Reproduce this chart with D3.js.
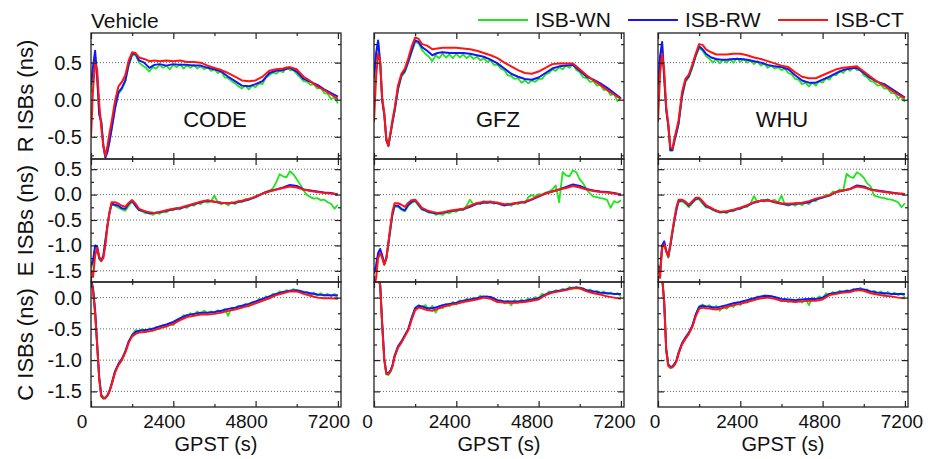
<!DOCTYPE html>
<html>
<head>
<meta charset="utf-8">
<script src="https://cdn.jsdelivr.net/npm/d3@7"></script>
<style>
  body { margin: 0; background: #fff; }
  svg { font-family: Arial, "Liberation Sans", sans-serif; }
</style>
</head>
<body>
<div id="container"></div>
<script>

// GPST epochs (s) for ISB-RW / ISB-CT
var T = [0,60,120,180,240,300,360,420,480,540,600,700,800,900,1000,1100,1200,1300,1400,
  1550,1700,1850,2000,2200,2400,2600,2800,3000,3200,3400,3600,3800,4000,4200,4400,4600,
  4800,5000,5200,5400,5600,5800,6000,6200,6400,6600,6800,7000,7200];

// GPST epochs (s) for ISB-WN (noisier, denser)
var TW = [0,60,120,180,240,300,360,420,480,540,600,700,800,900,1000,1100,1200,1300,1400,
  1500,1600,1700,1800,1900,2000,2100,2200,2300,2400,2500,2600,2700,2800,2900,3000,3100,
  3200,3300,3400,3500,3600,3700,3800,3900,4000,4100,4200,4300,4400,4500,4600,4700,4800,
  4900,5000,5100,5200,5300,5400,5500,5600,5700,5800,5900,6000,6100,6200,6300,6400,6500,
  6600,6700,6800,6900,7000,7100,7200];

var centers = ["CODE", "GFZ", "WHU"];
var rowNames = ["R", "E", "C"];
var seriesNames = ["ISB-WN", "ISB-RW", "ISB-CT"];
var seriesColors = ["#1ee61e", "#1414ff", "#ff1414"];

var xTicks = [0, 2400, 4800, 7200];
var xMinor = [1200, 3600, 6000];
var yMajor = [[-0.5, 0, 0.5], [-1.5, -1, -0.5, 0, 0.5], [-1.5, -1, -0.5, 0]];
var yMinor = [[-0.75, -0.25, 0.25, 0.75], [-1.25, -0.75, -0.25, 0.25], [-1.25, -0.75, -0.25]];

// ---- R ISBs ----
var rCodeWN = [0.10,0.40,0.62,0.30,-0.18,-0.30,-0.62,-0.78,-0.70,-0.56,-0.40,-0.12,0.08,0.14,0.24,0.46,0.60,0.60,0.50,
  0.46,0.43,0.38,0.44,0.42,0.47,0.43,0.46,0.41,0.47,
  0.44,0.48,0.42,0.46,0.43,0.47,0.42,0.45,0.41,0.44,
  0.39,0.41,0.36,0.38,0.30,0.29,0.25,0.22,0.18,0.15,
  0.19,0.14,0.19,0.17,0.22,0.21,0.30,0.33,0.37,0.35,
  0.39,0.37,0.44,0.40,0.40,0.35,0.30,0.25,0.24,0.20,
  0.21,0.15,0.16,0.09,0.08,0.01,0.03,-0.05];
var rCodeRW = [0.20,0.45,0.66,0.30,-0.20,-0.30,-0.62,-0.78,-0.70,-0.56,-0.40,-0.12,0.10,0.16,0.26,0.48,0.62,0.62,0.53,
  0.50,0.43,0.47,
  0.48,0.46,0.48,0.47,0.47,0.46,0.46,0.43,0.41,0.38,0.31,0.25,0.19,0.18,0.21,0.25,0.36,0.39,0.40,0.43,0.38,0.28,0.24,0.20,0.14,0.09,0.04];
var rCodeCT = [-0.50,0.15,0.50,0.40,-0.05,-0.38,-0.62,-0.76,-0.62,-0.45,-0.30,-0.02,0.18,0.24,0.33,0.53,0.64,0.63,0.57,
  0.55,0.52,0.53,
  0.52,0.53,0.52,0.53,0.51,0.51,0.50,0.46,0.43,0.40,0.36,0.31,0.26,0.25,0.26,0.31,0.39,0.41,0.42,0.44,0.41,0.31,0.25,0.18,0.13,0.07,0.01];

var rGfzWN = [0.25,0.58,0.78,0.50,-0.02,-0.20,-0.55,-0.63,-0.47,-0.31,-0.16,0.13,0.31,0.37,0.50,0.64,0.78,0.76,0.67,
  0.62,0.58,0.52,0.60,0.56,0.62,0.57,0.61,0.56,0.62,
  0.57,0.61,0.56,0.60,0.55,0.58,0.53,0.56,0.51,0.53,
  0.47,0.47,0.42,0.40,0.33,0.32,0.28,0.29,0.23,0.26,
  0.22,0.26,0.24,0.28,0.28,0.34,0.36,0.41,0.39,0.44,
  0.41,0.46,0.43,0.48,0.40,0.37,0.30,0.29,0.24,0.25,
  0.19,0.20,0.13,0.14,0.06,0.08,-0.02,0.02];
var rGfzRW = [0.30,0.62,0.80,0.50,-0.02,-0.20,-0.55,-0.62,-0.46,-0.30,-0.15,0.15,0.33,0.39,0.52,0.66,0.80,0.78,0.71,
  0.66,0.60,0.63,
  0.64,0.63,0.63,0.63,0.62,0.60,0.58,0.54,0.49,0.42,0.35,0.31,0.28,0.27,0.30,0.36,0.42,0.45,0.46,0.47,0.39,0.31,0.27,0.22,0.16,0.09,0.02];
var rGfzCT = [-0.30,0.30,0.62,0.52,0.02,-0.18,-0.52,-0.62,-0.44,-0.27,-0.12,0.19,0.35,0.42,0.56,0.72,0.84,0.82,0.75,
  0.73,0.68,0.69,
  0.70,0.70,0.70,0.69,0.68,0.66,0.63,0.60,0.56,0.50,0.45,0.40,0.36,0.35,0.38,0.43,0.48,0.49,0.49,0.49,0.41,0.33,0.26,0.20,0.13,0.07,0.01];

var rWhuWN = [0.15,0.55,0.76,0.30,-0.14,-0.35,-0.69,-0.69,-0.56,-0.45,-0.33,0.03,0.24,0.30,0.43,0.58,0.70,0.66,0.59,
  0.55,0.50,0.55,0.49,0.54,0.50,0.55,0.50,0.56,0.51,
  0.55,0.50,0.53,0.48,0.52,0.46,0.49,0.43,0.46,0.42,
  0.44,0.40,0.42,0.36,0.34,0.28,0.27,0.21,0.23,0.18,
  0.23,0.19,0.25,0.23,0.29,0.27,0.34,0.33,0.39,0.36,
  0.42,0.39,0.44,0.40,0.41,0.33,0.30,0.25,0.24,0.19,
  0.20,0.15,0.15,0.09,0.09,0.02,0.04,-0.03];
var rWhuRW = [0.20,0.58,0.78,0.30,-0.14,-0.35,-0.68,-0.68,-0.55,-0.44,-0.32,0.05,0.26,0.32,0.45,0.60,0.72,0.68,0.62,
  0.57,0.55,0.54,
  0.54,0.55,0.55,0.54,0.52,0.50,0.47,0.45,0.44,0.41,0.33,0.26,0.23,0.23,0.27,0.31,0.36,0.40,0.42,0.43,0.36,0.29,0.24,0.21,0.15,0.09,0.03];
var rWhuCT = [-0.30,0.35,0.62,0.40,-0.10,-0.32,-0.64,-0.66,-0.52,-0.40,-0.28,0.10,0.28,0.34,0.47,0.62,0.75,0.74,0.68,
  0.64,0.61,0.61,
  0.61,0.62,0.62,0.60,0.57,0.55,0.52,0.49,0.46,0.44,0.37,0.31,0.29,0.29,0.33,0.37,0.41,0.43,0.44,0.45,0.38,0.31,0.24,0.19,0.13,0.07,0.02];

// ---- E ISBs ----
var eCodeWN = [-1.45,-1.35,-1.05,-1.05,-1.27,-1.32,-1.22,-0.92,-0.62,-0.37,-0.20,-0.22,-0.26,-0.29,-0.32,-0.22,-0.14,-0.23,-0.31,
  -0.33,-0.37,-0.35,-0.40,-0.36,-0.38,-0.33,-0.35,-0.30,-0.31,
  -0.26,-0.29,-0.24,-0.26,-0.20,-0.22,-0.16,-0.19,-0.12,-0.16,
  -0.13,-0.02,-0.16,-0.19,-0.16,-0.21,-0.15,-0.19,-0.12,-0.15,
  -0.09,-0.08,-0.07,-0.03,0.00,0.01,0.06,0.07,0.12,0.24,
  0.40,0.36,0.34,0.46,0.40,0.30,0.20,0.08,-0.01,-0.05,
  -0.08,-0.07,-0.11,-0.10,-0.15,-0.18,-0.28,-0.20];
var eCodeRW = [-1.40,-1.30,-1.00,-1.02,-1.25,-1.30,-1.20,-0.90,-0.60,-0.35,-0.18,-0.20,-0.22,-0.27,-0.28,-0.18,-0.12,-0.22,-0.30,
  -0.33,-0.37,-0.36,
  -0.35,-0.32,-0.29,-0.27,-0.23,-0.19,-0.15,-0.12,-0.14,-0.16,-0.17,-0.16,-0.13,-0.10,-0.05,0.02,0.07,0.10,0.14,0.19,0.17,0.10,0.08,0.06,0.04,0.03,0.00];
var eCodeCT = [-1.48,-1.62,-1.20,-1.05,-1.22,-1.30,-1.25,-1.00,-0.62,-0.35,-0.15,-0.15,-0.18,-0.22,-0.24,-0.16,-0.11,-0.18,-0.28,
  -0.32,-0.35,-0.36,
  -0.34,-0.31,-0.28,-0.26,-0.22,-0.18,-0.14,-0.11,-0.14,-0.16,-0.17,-0.15,-0.12,-0.09,-0.04,0.02,0.06,0.10,0.13,0.16,0.14,0.10,0.07,0.05,0.03,0.02,0.00];

var eGfzWN = [-1.50,-1.42,-1.18,-1.10,-1.22,-1.38,-1.27,-0.97,-0.68,-0.40,-0.24,-0.24,-0.30,-0.33,-0.22,-0.16,-0.13,-0.22,-0.30,
  -0.31,-0.36,-0.34,-0.40,-0.37,-0.40,-0.35,-0.37,-0.32,-0.34,
  -0.29,-0.31,-0.22,-0.10,-0.20,-0.16,-0.19,-0.13,-0.17,-0.13,
  -0.18,-0.15,-0.20,-0.22,-0.19,-0.22,-0.17,-0.19,-0.14,-0.17,
  -0.05,-0.01,-0.04,0.01,0.00,0.04,0.06,0.10,0.18,-0.15,
  0.44,0.38,0.36,0.48,0.44,0.30,0.22,0.10,0.02,-0.04,
  -0.05,-0.07,-0.08,-0.11,-0.26,-0.13,-0.16,-0.11];
var eGfzRW = [-1.55,-1.40,-1.15,-1.07,-1.20,-1.36,-1.25,-0.96,-0.66,-0.38,-0.22,-0.22,-0.28,-0.31,-0.20,-0.14,-0.11,-0.20,-0.28,
  -0.33,-0.36,-0.37,
  -0.36,-0.33,-0.31,-0.29,-0.24,-0.18,-0.16,-0.15,-0.17,-0.21,-0.19,-0.16,-0.15,-0.10,-0.04,0.02,0.06,0.10,0.15,0.20,0.17,0.11,0.08,0.06,0.05,0.03,0.00];
var eGfzCT = [-1.80,-1.65,-1.25,-1.15,-1.25,-1.38,-1.25,-0.94,-0.62,-0.33,-0.17,-0.17,-0.20,-0.24,-0.16,-0.11,-0.10,-0.18,-0.26,
  -0.31,-0.34,-0.36,
  -0.35,-0.32,-0.30,-0.28,-0.22,-0.17,-0.14,-0.14,-0.16,-0.19,-0.18,-0.16,-0.14,-0.09,-0.03,0.02,0.06,0.10,0.13,0.17,0.14,0.10,0.07,0.05,0.04,0.02,0.00];

var eWhuWN = [-1.38,-1.52,-1.02,-0.95,-1.12,-1.24,-1.02,-0.76,-0.52,-0.30,-0.15,-0.13,-0.18,-0.25,-0.17,-0.10,-0.09,-0.18,-0.25,
  -0.26,-0.31,-0.30,-0.36,-0.33,-0.37,-0.31,-0.33,-0.27,-0.29,
  -0.24,-0.24,-0.17,-0.03,-0.15,-0.11,-0.14,-0.09,-0.13,-0.10,
  -0.16,-0.02,-0.20,-0.22,-0.18,-0.22,-0.17,-0.21,-0.15,-0.19,
  -0.11,-0.13,-0.06,-0.06,0.00,-0.01,0.06,0.05,0.10,0.08,
  0.41,0.35,0.33,0.44,0.40,0.33,0.22,0.16,-0.02,-0.04,
  -0.06,-0.07,-0.09,-0.10,-0.12,-0.15,-0.25,-0.17];
var eWhuRW = [-1.40,-1.55,-1.00,-0.92,-1.10,-1.22,-1.00,-0.74,-0.50,-0.28,-0.13,-0.11,-0.15,-0.22,-0.15,-0.08,-0.07,-0.15,-0.23,
  -0.27,-0.33,-0.35,
  -0.34,-0.31,-0.27,-0.22,-0.16,-0.12,-0.11,-0.15,-0.18,-0.20,-0.18,-0.17,-0.15,-0.10,-0.06,-0.02,0.05,0.08,0.11,0.18,0.16,0.10,0.08,0.06,0.04,0.02,0.01];
var eWhuCT = [-1.42,-1.64,-1.05,-0.98,-1.12,-1.22,-0.98,-0.72,-0.46,-0.24,-0.10,-0.10,-0.14,-0.20,-0.13,-0.06,-0.06,-0.13,-0.21,
  -0.26,-0.32,-0.34,
  -0.33,-0.30,-0.26,-0.21,-0.15,-0.12,-0.11,-0.14,-0.17,-0.18,-0.17,-0.16,-0.13,-0.08,-0.05,-0.01,0.05,0.08,0.11,0.16,0.14,0.10,0.07,0.05,0.03,0.02,0.01];

// ---- C ISBs ----
var cCodeWN = [0.28,0.12,-0.22,-0.78,-1.30,-1.58,-1.62,-1.62,-1.57,-1.50,-1.39,-1.19,-1.07,-0.99,-0.87,-0.71,-0.59,-0.52,-0.54,
  -0.50,-0.55,-0.49,-0.53,-0.47,-0.50,-0.44,-0.47,-0.41,-0.44,
  -0.36,-0.35,-0.28,-0.30,-0.25,-0.28,-0.22,-0.26,-0.21,-0.25,
  -0.22,-0.25,-0.20,-0.24,-0.18,-0.29,-0.16,-0.18,-0.13,-0.16,
  -0.10,-0.14,-0.07,-0.09,-0.02,-0.05,0.02,-0.01,0.06,0.05,
  0.10,0.07,0.12,0.10,0.14,0.10,0.11,0.07,0.09,0.05,
  0.08,0.03,0.07,0.03,0.06,0.02,0.06,-0.02];
var cCodeRW = [0.30,0.15,-0.20,-0.75,-1.28,-1.56,-1.60,-1.60,-1.56,-1.49,-1.38,-1.18,-1.06,-0.98,-0.86,-0.70,-0.60,-0.55,-0.53,
  -0.52,-0.51,-0.49,
  -0.46,-0.43,-0.39,-0.33,-0.28,-0.26,-0.24,-0.24,-0.23,-0.21,-0.18,-0.16,-0.13,-0.10,-0.06,-0.02,0.02,0.06,0.09,0.11,0.12,0.09,0.07,0.05,0.04,0.04,0.04];
var cCodeCT = [0.30,0.10,-0.26,-0.75,-1.30,-1.58,-1.61,-1.60,-1.57,-1.50,-1.40,-1.20,-1.08,-1.00,-0.88,-0.72,-0.62,-0.58,-0.56,
  -0.55,-0.54,-0.52,
  -0.49,-0.46,-0.42,-0.36,-0.31,-0.29,-0.27,-0.27,-0.26,-0.24,-0.21,-0.19,-0.16,-0.13,-0.09,-0.05,-0.01,0.04,0.07,0.10,0.10,0.06,0.03,0.00,-0.01,-0.01,-0.02];

var cGfzWN = [0.35,0.35,0.32,0.20,-0.44,-1.00,-1.23,-1.24,-1.19,-1.10,-0.94,-0.80,-0.71,-0.61,-0.51,-0.33,-0.16,-0.12,-0.15,
  -0.12,-0.20,-0.13,-0.24,-0.14,-0.17,-0.10,-0.14,-0.07,-0.11,
  -0.04,-0.08,-0.02,-0.04,0.00,-0.02,0.03,0.00,0.02,-0.01,
  -0.03,-0.06,-0.04,-0.09,-0.05,-0.12,-0.04,-0.08,-0.03,-0.07,
  -0.01,-0.05,0.01,-0.01,0.06,0.03,0.10,0.08,0.12,0.10,
  0.14,0.12,0.17,0.14,0.18,0.14,0.15,0.11,0.13,0.09,
  0.11,0.07,0.10,0.06,0.08,0.05,0.07,0.02];
var cGfzRW = [0.35,0.35,0.32,0.20,-0.42,-0.98,-1.20,-1.21,-1.17,-1.08,-0.93,-0.78,-0.70,-0.60,-0.50,-0.32,-0.17,-0.13,-0.14,
  -0.17,-0.17,-0.15,
  -0.12,-0.10,-0.08,-0.05,-0.03,-0.01,0.02,0.01,-0.04,-0.06,-0.06,-0.06,-0.05,-0.03,-0.01,0.05,0.09,0.11,0.13,0.16,0.16,0.12,0.10,0.08,0.07,0.06,0.06];
var cGfzCT = [0.35,0.35,0.32,0.20,-0.45,-1.00,-1.22,-1.22,-1.18,-1.10,-0.95,-0.80,-0.72,-0.62,-0.52,-0.35,-0.20,-0.16,-0.17,
  -0.20,-0.21,-0.18,
  -0.15,-0.12,-0.10,-0.07,-0.05,-0.03,0.00,-0.02,-0.07,-0.08,-0.08,-0.08,-0.07,-0.05,-0.03,0.04,0.08,0.10,0.12,0.15,0.15,0.10,0.07,0.05,0.02,0.00,-0.02];

var cWhuWN = [0.35,0.35,0.33,-0.07,-0.84,-1.09,-1.13,-1.12,-1.08,-1.01,-0.89,-0.74,-0.65,-0.57,-0.46,-0.28,-0.14,-0.11,-0.15,
  -0.12,-0.19,-0.13,-0.21,-0.14,-0.18,-0.11,-0.15,-0.08,-0.12,
  -0.05,-0.08,-0.01,-0.04,0.02,0.00,0.04,0.01,0.03,-0.01,
  -0.03,-0.06,-0.02,-0.07,-0.03,-0.06,-0.02,-0.08,-0.02,-0.12,
  0.00,-0.04,0.02,-0.01,0.07,0.04,0.09,0.06,0.11,0.08,
  0.12,0.10,0.14,0.11,0.16,0.12,0.13,0.09,0.11,0.07,
  0.10,0.05,0.09,0.05,0.08,0.04,0.07,0.01];
var cWhuRW = [0.35,0.35,0.33,-0.06,-0.82,-1.07,-1.11,-1.10,-1.06,-1.00,-0.88,-0.73,-0.64,-0.56,-0.45,-0.27,-0.15,-0.13,-0.14,
  -0.15,-0.16,-0.14,
  -0.12,-0.09,-0.07,-0.04,-0.01,0.02,0.03,0.01,-0.02,-0.03,-0.04,-0.03,-0.02,-0.02,0.00,0.06,0.08,0.10,0.11,0.14,0.13,0.10,0.08,0.07,0.06,0.06,0.06];
var cWhuCT = [0.35,0.35,0.33,-0.08,-0.85,-1.09,-1.12,-1.11,-1.08,-1.02,-0.90,-0.75,-0.66,-0.58,-0.47,-0.30,-0.18,-0.16,-0.17,
  -0.18,-0.19,-0.17,
  -0.15,-0.12,-0.10,-0.07,-0.04,-0.01,0.00,-0.02,-0.05,-0.06,-0.07,-0.06,-0.05,-0.05,-0.03,0.04,0.06,0.08,0.09,0.12,0.11,0.07,0.05,0.03,0.02,0.00,-0.01];

// panels[row][col] = [WN, RW, CT]
var panels = [
  [[rCodeWN, rCodeRW, rCodeCT], [rGfzWN, rGfzRW, rGfzCT], [rWhuWN, rWhuRW, rWhuCT]],
  [[eCodeWN, eCodeRW, eCodeCT], [eGfzWN, eGfzRW, eGfzCT], [eWhuWN, eWhuRW, eWhuCT]],
  [[cCodeWN, cCodeRW, cCodeCT], [cGfzWN, cGfzRW, cGfzCT], [cWhuWN, cWhuRW, cWhuCT]]
];

// layout
var width = 941, height = 459;
var colLeft = [91, 374, 658], colW = 250;
var rowTop = [33, 159, 282], rowBot = [159, 282, 407];
var yDomains = [[-0.8, 0.9], [-1.72, 0.7], [-1.75, 0.25]];
var xLabelShift = [-9.5, -7, -3.5];

var svg = d3.select("div#container")
  .append("svg")
  .attr("width", width)
  .attr("height", height);

function styleText(sel, size) {
  sel.attr("font-family", "Arial, 'Liberation Sans', sans-serif")
     .attr("font-size", size)
     .attr("fill", "#111");
}

for (var r = 0; r < 3; r++) {
  for (var c = 0; c < 3; c++) {
    var L = colLeft[c];
    var x = d3.scaleLinear().domain([0, 7290]).range([L, L + colW]);
    var y = d3.scaleLinear().domain(yDomains[r]).range([rowBot[r], rowTop[r]]);
    var g = svg.append("g");

    var clipId = "clip" + r + c;
    g.append("clipPath").attr("id", clipId)
      .append("rect")
      .attr("x", L).attr("y", rowTop[r])
      .attr("width", colW).attr("height", rowBot[r] - rowTop[r]);

    // dotted grid at major y ticks
    g.selectAll("line.grid").data(yMajor[r]).join("line")
      .attr("class", "grid")
      .attr("x1", L).attr("x2", L + colW)
      .attr("y1", function(d) { return y(d); })
      .attr("y2", function(d) { return y(d); })
      .attr("stroke", "#666").attr("stroke-width", 1)
      .attr("stroke-dasharray", "1,2");

    // series
    var line = d3.line()
      .x(function(d) { return x(d[0]); })
      .y(function(d) { return y(d[1]); });
    var plot = g.append("g").attr("clip-path", "url(#" + clipId + ")");
    panels[r][c].forEach(function(vals, s) {
      var times = s === 0 ? TW : T;
      plot.append("path")
        .datum(d3.zip(times, vals))
        .attr("d", line)
        .attr("fill", "none")
        .attr("stroke", seriesColors[s])
        .attr("stroke-width", s === 0 ? 1.8 : 2)
        .attr("stroke-linejoin", "round");
    });

    // inward ticks on all four sides
    var tickAxes = [
      [d3.axisBottom(x).tickValues(xTicks).tickSize(-6), "translate(0," + rowBot[r] + ")"],
      [d3.axisBottom(x).tickValues(xMinor).tickSize(-3), "translate(0," + rowBot[r] + ")"],
      [d3.axisTop(x).tickValues(xTicks).tickSize(-6), "translate(0," + rowTop[r] + ")"],
      [d3.axisTop(x).tickValues(xMinor).tickSize(-3), "translate(0," + rowTop[r] + ")"],
      [d3.axisLeft(y).tickValues(yMajor[r]).tickSize(-6), "translate(" + L + ",0)"],
      [d3.axisLeft(y).tickValues(yMinor[r]).tickSize(-3), "translate(" + L + ",0)"],
      [d3.axisRight(y).tickValues(yMajor[r]).tickSize(-6), "translate(" + (L + colW) + ",0)"],
      [d3.axisRight(y).tickValues(yMinor[r]).tickSize(-3), "translate(" + (L + colW) + ",0)"]
    ];
    tickAxes.forEach(function(a) {
      var ag = g.append("g").attr("transform", a[1]).call(a[0].tickFormat(""));
      ag.select(".domain").remove();
      ag.selectAll("line").attr("stroke", "#222").attr("stroke-width", 1.2);
    });

    // y tick labels (first column only)
    if (c === 0) {
      var yl = g.append("g").attr("transform", "translate(" + L + ",0)")
        .call(d3.axisLeft(y).tickValues(yMajor[r]).tickSize(0).tickPadding(9)
          .tickFormat(function(d) { return d.toFixed(1); }));
      yl.select(".domain").remove();
      styleText(yl.selectAll("text"), 20);
    }

    // x tick labels (bottom row only)
    if (r === 2) {
      var xl = g.append("g").attr("transform", "translate(0," + rowBot[r] + ")")
        .call(d3.axisBottom(x).tickValues(xTicks).tickSize(0).tickPadding(8)
          .tickFormat(function(d) { return String(d); }));
      xl.select(".domain").remove();
      styleText(xl.selectAll("text"), 19);
      xl.selectAll("text").attr("dx", xLabelShift[c]);

      styleText(g.append("text")
        .attr("x", L + colW / 2).attr("y", 451)
        .attr("text-anchor", "middle")
        .text("GPST (s)"), 20);
    }

    // frame
    g.append("rect")
      .attr("x", L).attr("y", rowTop[r])
      .attr("width", colW).attr("height", rowBot[r] - rowTop[r])
      .attr("fill", "none").attr("stroke", "#222").attr("stroke-width", 1.3);

    // analysis centre name
    if (r === 0) {
      styleText(g.append("text")
        .attr("x", L + colW / 2 - 1).attr("y", 127)
        .attr("text-anchor", "middle")
        .text(centers[c]), 22);
    }
  }

  // y axis title
  var cy = (rowTop[r] + rowBot[r]) / 2;
  styleText(svg.append("text")
    .attr("transform", "translate(33," + cy + ") rotate(-90)")
    .attr("text-anchor", "middle")
    .text(rowNames[r] + " ISBs (ns)"), 22);
}

// title
styleText(svg.append("text").attr("x", 91).attr("y", 28).text("Vehicle"), 21);

// legend
var legendX = [478, 628, 778];
seriesNames.forEach(function(name, s) {
  svg.append("line")
    .attr("x1", legendX[s]).attr("x2", legendX[s] + 50)
    .attr("y1", 20).attr("y2", 20)
    .attr("stroke", seriesColors[s]).attr("stroke-width", 2);
  styleText(svg.append("text")
    .attr("x", legendX[s] + 57).attr("y", 27)
    .text(name), 21);
});

</script>
</body>
</html>
